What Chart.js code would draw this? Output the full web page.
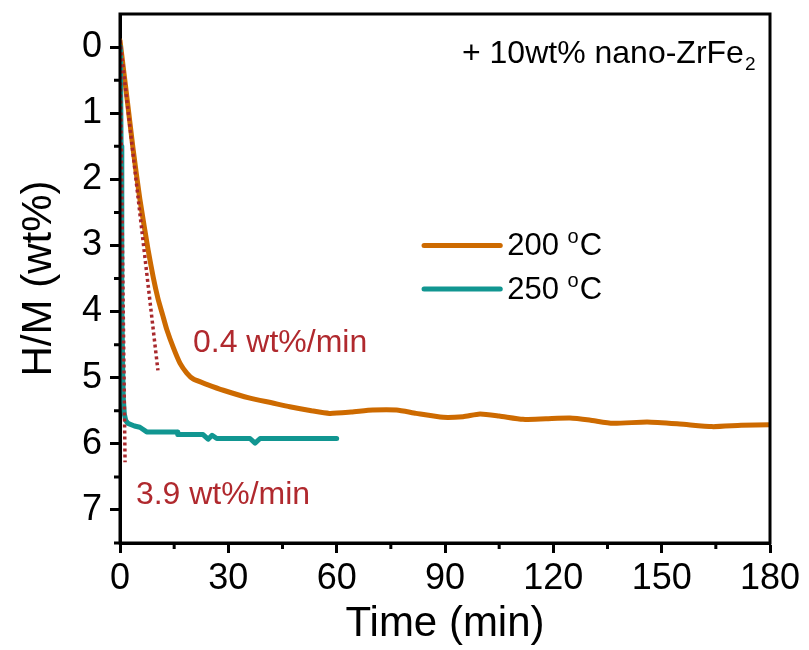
<!DOCTYPE html>
<html><head><meta charset="utf-8">
<script src="https://cdn.jsdelivr.net/npm/chart.js@4.4.0/dist/chart.umd.min.js"></script>
<style>html,body{margin:0;padding:0;background:#fff}canvas{display:block}</style>
</head><body>
<canvas id="c" width="809" height="650"></canvas>
<script>
// ---- data ----
const time200 = [0, 1, 2, 3.6, 5.5, 7.8, 9.2, 10.5, 11.8, 13, 14.8, 16.6, 18.5, 20.3, 24, 28.6, 36, 42, 47, 53, 58, 64, 70, 76.6, 82, 89.5, 95, 99.7, 105, 111.6, 118, 124.6, 130, 136.5, 146, 155, 164, 172, 180];
const hm200   = [-0.1, 0.35, 0.8, 1.53, 2.3, 3.07, 3.48, 3.8, 4.05, 4.28, 4.55, 4.78, 4.93, 5.02, 5.1, 5.19, 5.31, 5.38, 5.44, 5.5, 5.54, 5.52, 5.49, 5.49, 5.54, 5.6, 5.59, 5.55, 5.58, 5.63, 5.62, 5.61, 5.64, 5.69, 5.67, 5.7, 5.74, 5.72, 5.71];
const time250 = [0.1, 0.3, 0.5, 0.7, 0.9, 1.2, 1.6, 2.2, 4, 5.5, 7.4, 15.8, 16, 23, 24.4, 25.5, 26.8, 36, 37.4, 38.8, 45, 60];
const hm250   = [0, 1.5, 3.8, 4.7, 5.3, 5.55, 5.65, 5.69, 5.73, 5.75, 5.82, 5.82, 5.86, 5.86, 5.93, 5.87, 5.92, 5.92, 5.99, 5.92, 5.92, 5.92];
const fitTimeA = [0, 10.5];   // 0.4 wt%/min guide
const fitHMA   = [-0.1, 4.89];
const fitTimeB = [0, 1.4];    // 3.9 wt%/min guide
const fitHMB   = [-0.1, 6.28];
const xTickValues = [0, 30, 60, 90, 120, 150, 180];
const xMinorValues = [15, 45, 75, 105, 135, 165];
const yTickValues = [0, 1, 2, 3, 4, 5, 6, 7];
const yMinorValues = [0.5, 1.5, 2.5, 3.5, 4.5, 5.5, 6.5, 7.5];
const seriesLabels = ['200', '250'];
const rateLabels = ['0.4 wt%/min', '3.9 wt%/min'];

const ORANGE = '#cd6a00', TEAL = '#119691', DOT = '#a8282c', RED = '#b0292e';
const FONT = "'Liberation Sans', Arial, sans-serif";
const toPts = (xs, ys) => xs.map((x, i) => ({x, y: ys[i]}));

const extras = {
  id: 'extras',
  afterDraw(chart) {
    const {ctx, chartArea: a, scales: {x, y}} = chart;
    ctx.save();
    // frame
    ctx.strokeStyle = '#000'; ctx.lineWidth = 3;
    ctx.strokeRect(a.left, a.top, a.right - a.left, a.bottom - a.top);
    // minor ticks
    ctx.beginPath();
    yMinorValues.forEach(v => { const py = y.getPixelForValue(v); ctx.moveTo(a.left - 6, py); ctx.lineTo(a.left, py); });
    xMinorValues.forEach(v => { const px = x.getPixelForValue(v); ctx.moveTo(px, a.bottom); ctx.lineTo(px, a.bottom + 6); });
    ctx.stroke();
    // rate annotations
    ctx.fillStyle = RED; ctx.textBaseline = 'alphabetic'; ctx.textAlign = 'left';
    ctx.font = '32px ' + FONT;
    ctx.fillText(rateLabels[0], x.getPixelForValue(20.2), y.getPixelForValue(4.61));
    ctx.fillText(rateLabels[1], x.getPixelForValue(4.4), y.getPixelForValue(6.91));
    // sample label
    ctx.fillStyle = '#000';
    ctx.font = '32px ' + FONT;
    const sx = x.getPixelForValue(94.7), sy = y.getPixelForValue(0.24);
    const main = '+ 10wt% nano-ZrFe';
    ctx.fillText(main, sx, sy);
    const w = ctx.measureText(main).width;
    ctx.font = '19px ' + FONT;
    ctx.fillText('2', sx + w + 1, sy + 7);
    // legend
    const items = [[seriesLabels[0], ORANGE, 3.0], [seriesLabels[1], TEAL, 3.66]];
    items.forEach(([lab, col, v]) => {
      const ly = y.getPixelForValue(v);
      const x1 = x.getPixelForValue(84.2), x2 = x.getPixelForValue(105.3);
      ctx.strokeStyle = col; ctx.lineWidth = 5; ctx.lineCap = 'round';
      ctx.beginPath(); ctx.moveTo(x1, ly); ctx.lineTo(x2, ly); ctx.stroke();
      ctx.fillStyle = '#000';
      ctx.font = '31px ' + FONT;
      const tx = x2 + 7, ty = ly + 10;
      const t1 = lab + ' ';
      ctx.fillText(t1, tx, ty);
      let cx = tx + ctx.measureText(t1).width;
      ctx.font = '20px ' + FONT;
      ctx.fillText('o', cx, ty - 12);
      cx += ctx.measureText('o').width + 1;
      ctx.font = '31px ' + FONT;
      ctx.fillText('C', cx, ty);
    });
    ctx.restore();
  }
};

new Chart(document.getElementById('c'), {
  type: 'line',
  data: {
    datasets: [
      {label: 'fitA', data: toPts(fitTimeA, fitHMA), borderColor: DOT, borderWidth: 3.5, borderDash: [3, 3], pointRadius: 0, order: 0},
      {label: 'fitB', data: toPts(fitTimeB, fitHMB), borderColor: DOT, borderWidth: 3.5, borderDash: [3, 3], pointRadius: 0, order: 1},
      {label: seriesLabels[0] + ' °C', data: toPts(time200, hm200), borderColor: ORANGE, borderWidth: 5, borderJoinStyle: 'round', borderCapStyle: 'round', pointRadius: 0, tension: 0.2, order: 3},
      {label: seriesLabels[1] + ' °C', data: toPts(time250, hm250), borderColor: TEAL, borderWidth: 5, borderJoinStyle: 'round', borderCapStyle: 'round', pointRadius: 0, tension: 0, order: 2}
    ]
  },
  options: {
    responsive: false, animation: false,
    layout: {autoPadding: false, padding: {left: 0, top: 14, right: 39, bottom: 0}},
    plugins: {legend: {display: false}, tooltip: {enabled: false}},
    scales: {
      x: {
        type: 'linear', min: 0, max: 180,
        afterBuildTicks: s => { s.ticks = xTickValues.map(v => ({value: v})); },
        afterFit: s => { s.height = 107; s.paddingLeft = 0; s.paddingRight = 0; },
        grid: {drawOnChartArea: false, tickLength: 10, tickWidth: 3, tickColor: '#000'},
        border: {display: true, width: 3, color: '#000'},
        ticks: {font: {family: FONT, size: 36}, color: '#000', padding: 4, maxRotation: 0},
        title: {display: true, text: 'Time (min)', font: {family: FONT, size: 42}, color: '#000', padding: {top: 6, bottom: 0}}
      },
      y: {
        type: 'linear', min: -0.5, max: 7.5, reverse: true,
        afterBuildTicks: s => { s.ticks = yTickValues.map(v => ({value: v})); },
        afterFit: s => { s.width = 120; s.paddingTop = 0; s.paddingBottom = 0; },
        grid: {drawOnChartArea: false, tickLength: 10, tickWidth: 3, tickColor: '#000'},
        border: {display: true, width: 3, color: '#000'},
        ticks: {font: {family: FONT, size: 36}, color: '#000', padding: 8},
        title: {display: true, text: 'H/M (wt%)', font: {family: FONT, size: 42}, color: '#000', padding: {top: 14, bottom: 0}}
      }
    }
  },
  plugins: [extras]
});
</script>
</body></html>
